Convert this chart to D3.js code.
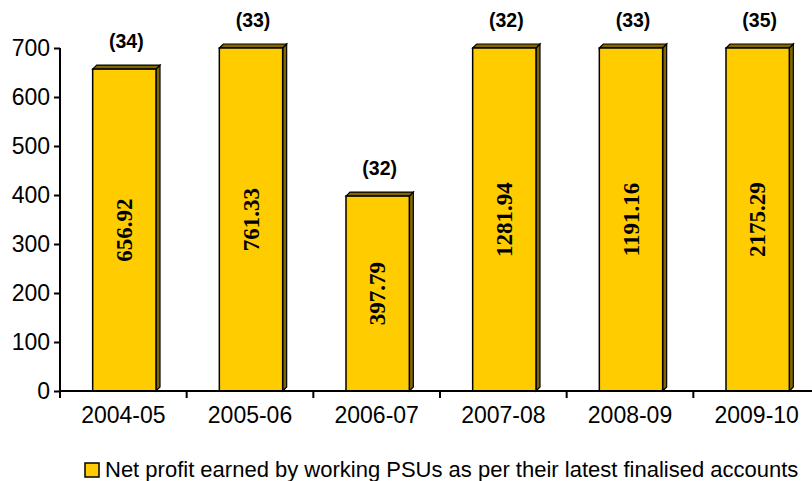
<!DOCTYPE html>
<html>
<head>
<meta charset="utf-8">
<script src="https://cdn.jsdelivr.net/npm/d3@7"></script>
<style>
  body { margin: 0; background: #fff; }
  svg { display: block; }
</style>
</head>
<body>
<svg width="812" height="481"></svg>
<script>
const years = ["2004-05", "2005-06", "2006-07", "2007-08", "2008-09", "2009-10"]
const profits = [656.92, 761.33, 397.79, 1281.94, 1191.16, 2175.29]
const psuCounts = [34, 33, 32, 32, 33, 35]
const yTicks = [0, 100, 200, 300, 400, 500, 600, 700]
const legendText = "Net profit earned by working PSUs as per their latest finalised accounts"

const yMax = 700
const depth = 4

const svg = d3.select("svg")
const x = d3.scaleBand().domain(years).range([60, 820]).paddingInner(0.5).paddingOuter(0.25)
const y = d3.scaleLinear().domain([0, yMax]).range([391, 48])

const data = years.map((yr, i) => ({ yr: yr, v: profits[i], n: psuCounts[i] }))

// bars (front, right side, top)
const bars = svg.append("g").selectAll("g").data(data).enter().append("g")
bars.each(function (d) {
  const g = d3.select(this)
  const x0 = x(d.yr) + 1, w = x.bandwidth()
  const top = y(Math.min(d.v, yMax)), bot = y(0)
  g.append("path")
    .attr("d", `M${x0 + w},${top} L${x0 + w + depth},${top - depth} L${x0 + w + depth},${bot - depth} L${x0 + w},${bot} Z`)
    .attr("fill", "#806600").attr("stroke", "#000").attr("stroke-width", 1.2)
  g.append("path")
    .attr("d", `M${x0},${top} L${x0 + depth},${top - depth} L${x0 + w + depth},${top - depth} L${x0 + w},${top} Z`)
    .attr("fill", "#806600").attr("stroke", "#000").attr("stroke-width", 1.2)
  g.append("rect")
    .attr("x", x0).attr("y", top).attr("width", w).attr("height", bot - top)
    .attr("fill", "#ffcc00").attr("stroke", "#000").attr("stroke-width", 1.5)
  // value rotated inside bar
  g.append("text")
    .attr("transform", `translate(${x0 + w / 2},${(top + bot) / 2}) rotate(-90)`)
    .attr("text-anchor", "middle").attr("dominant-baseline", "central")
    .attr("font-family", "'Liberation Serif', 'Times New Roman', serif")
    .attr("font-weight", "bold").attr("font-size", 23)
    .text(d.v.toFixed(2))
  // number of PSUs above bar
  g.append("text")
    .attr("x", x0 + w / 2 + 2).attr("y", top - 21)
    .attr("text-anchor", "middle")
    .attr("font-family", "'Liberation Sans', Arial, sans-serif")
    .attr("font-weight", "bold").attr("font-size", 19.5)
    .text("(" + d.n + ")")
})

// y axis
const yAxis = svg.append("g").attr("transform", "translate(60,0)")
  .call(d3.axisLeft(y).tickValues(yTicks).tickSize(6).tickPadding(4).tickFormat(d3.format("d")))
yAxis.select(".domain").attr("stroke-width", 2).attr("d", `M-0,${y(yMax)}V${y(0)}`)
yAxis.selectAll(".tick line").attr("stroke-width", 2)
yAxis.selectAll("text").attr("font-family", "'Liberation Sans', Arial, sans-serif")
  .attr("font-size", 23).attr("fill", "#000")

// x axis
const xAxis = svg.append("g").attr("transform", `translate(0,${y(0)})`)
  .call(d3.axisBottom(x).tickSize(0).tickPadding(16))
xAxis.select(".domain").attr("stroke-width", 2).attr("d", "M60,0H812")
xAxis.selectAll("text").attr("font-family", "'Liberation Sans', Arial, sans-serif")
  .attr("font-size", 23).attr("fill", "#000")
xAxis.append("g").selectAll("line").data(d3.range(years.length + 1)).enter()
  .append("line")
  .attr("x1", i => 60 + i * x.step()).attr("x2", i => 60 + i * x.step())
  .attr("y1", 0).attr("y2", 7)
  .attr("stroke", "#000").attr("stroke-width", 2)

// legend
const legend = svg.append("g").attr("transform", "translate(85,463)")
legend.append("rect").attr("width", 14).attr("height", 14)
  .attr("fill", "#ffcc00").attr("stroke", "#000").attr("stroke-width", 1.5)
legend.append("text").attr("x", 20).attr("y", 14)
  .attr("font-family", "'Liberation Sans', Arial, sans-serif")
  .attr("font-size", 22).attr("fill", "#000")
  .text(legendText)
</script>
</body>
</html>
